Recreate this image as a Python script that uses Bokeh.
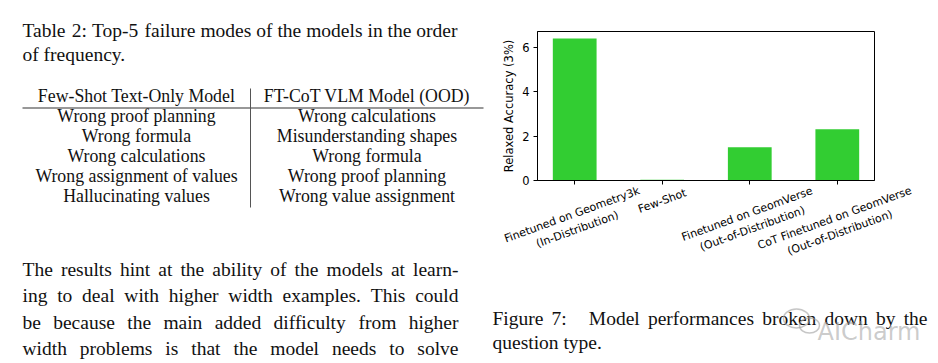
import math
from bokeh.plotting import figure
from bokeh.models import Range1d, FixedTicker, LinearAxis, ColumnDataSource
from bokeh.core.properties import value
from bokeh.embed import file_html
from bokeh.resources import INLINE

# ---------------- data ----------------
bar_labels = ["Finetuned on Geometry3k\n(In-Distribution)",
              "Few-Shot",
              "Finetuned on GeomVerse\n(Out-of-Distribution)",
              "CoT Finetuned on GeomVerse\n(Out-of-Distribution)"]
relaxed_accuracy = [6.38, 0.03, 1.49, 2.30]
y_ticks = [0, 2, 4, 6]
y_axis_label = "Relaxed Accuracy (3%)"

table_caption = ["Table 2: Top-5 failure modes of the models in the order",
                 "of frequency."]
table_header = ["Few-Shot Text-Only Model", "FT-CoT VLM Model (OOD)"]
text_only_failures = ["Wrong proof planning", "Wrong formula", "Wrong calculations",
                      "Wrong assignment of values", "Hallucinating values"]
vlm_failures = ["Wrong calculations", "Misunderstanding shapes", "Wrong formula",
                "Wrong proof planning", "Wrong value assignment"]
paragraph = ["The results hint at the ability of the models at learn-",
             "ing to deal with higher width examples. This could",
             "be because the main added difficulty from higher",
             "width problems is that the model needs to solve"]
figure_caption = ["Figure 7:  Model performances broken down by the",
                  "question type."]
watermark = "AICharm"

# ---------------- font metrics (approximate, per 1000 em) ----------------
TIMES = {' ': 250, '(': 333, ')': 333, '-': 333, '.': 250, ':': 278, ',': 250,
         'A': 722, 'B': 667, 'C': 667, 'D': 722, 'E': 611, 'F': 556, 'G': 722, 'H': 722,
         'I': 333, 'J': 389, 'K': 722, 'L': 611, 'M': 889, 'N': 722, 'O': 722, 'P': 556,
         'Q': 722, 'R': 667, 'S': 556, 'T': 611, 'U': 722, 'V': 722, 'W': 944, 'X': 722,
         'Y': 722, 'Z': 611,
         'a': 444, 'b': 500, 'c': 444, 'd': 500, 'e': 444, 'f': 333, 'g': 500, 'h': 500,
         'i': 278, 'j': 278, 'k': 500, 'l': 278, 'm': 778, 'n': 500, 'o': 500, 'p': 500,
         'q': 500, 'r': 333, 's': 389, 't': 278, 'u': 500, 'v': 500, 'w': 722, 'x': 500,
         'y': 500, 'z': 444}
DEJAVU = {' ': 318, '(': 390, ')': 390, '-': 361, '3': 636, '%': 950,
          'A': 684, 'C': 698, 'D': 770, 'F': 575, 'G': 775, 'I': 295, 'O': 787,
          'R': 695, 'S': 635, 'T': 611, 'V': 684,
          'a': 613, 'b': 635, 'c': 550, 'd': 635, 'e': 615, 'f': 352, 'h': 634,
          'i': 278, 'k': 579, 'l': 278, 'm': 974, 'n': 634, 'o': 612, 'r': 411,
          's': 521, 't': 392, 'u': 634, 'w': 818, 'x': 592, 'y': 592}


def width_of(s, size, table):
    return sum(table.get(c, 500) for c in s) / 1000.0 * size


def justify(line, x0, x1, size):
    """Spread the words of a line between x0 and x1 (LaTeX-like justification)."""
    tokens = line.split(" ")
    words, weights, pending = [], [], 0
    for t in tokens:
        if t == "":
            pending += 1
            continue
        if words:
            weights.append(1.0 + 1.7 * pending)
        words.append(t)
        pending = 0
    natural = sum(width_of(w, size, TIMES) for w in words)
    gap = (x1 - x0 - natural) / max(sum(weights), 1e-9)
    xs, x = [], x0
    for i, w in enumerate(words):
        xs.append(x)
        x += width_of(w, size, TIMES)
        if i < len(weights):
            x += gap * weights[i]
    return words, xs


SERIF = value("Liberation Serif")
SANS = value("DejaVu Sans")
INK = "#111111"
BODY = 19.5
SMALL = 17.8

W, H = 938, 363
p = figure(width=W, height=H, x_range=Range1d(0, W), y_range=Range1d(H, 0),
           output_backend="svg", toolbar_location=None, min_border=0,
           x_axis_type=None, y_axis_type=None)
p.outline_line_color = None
p.background_fill_color = "white"
p.border_fill_color = "white"
p.grid.visible = False


def add_lines(lines, x0, x1, y0, dy, size, justify_last=False):
    xs_all, ys_all, tx_all = [], [], []
    for i, ln in enumerate(lines):
        y = y0 + i * dy
        if i == len(lines) - 1 and not justify_last:
            xs_all.append(x0); ys_all.append(y); tx_all.append(ln)
            continue
        words, xs = justify(ln, x0, x1, size)
        xs_all += xs
        ys_all += [y] * len(words)
        tx_all += words
    p.text(x="x", y="y", text="t", source=ColumnDataSource(dict(x=xs_all, y=ys_all, t=tx_all)),
           text_font=SERIF, text_font_size=f"{size}px", text_align="left",
           text_baseline="alphabetic", text_color=INK)


# ---------------- left column: table ----------------
add_lines(table_caption, 22, 457, 30, 24, BODY)

COL_L, COL_SEP, COL_R_END = 22, 250, 483
col_centers = [(COL_L + COL_SEP) / 2, (COL_SEP + COL_R_END) / 2]
head_y = 95.5
row_y0, row_dy = 115.8, 19.95
tx, ty, tt = [], [], []
for c, h in enumerate(table_header):
    tx.append(col_centers[c]); ty.append(head_y); tt.append(h)
for c, col in enumerate([text_only_failures, vlm_failures]):
    for r, item in enumerate(col):
        tx.append(col_centers[c]); ty.append(row_y0 + r * row_dy); tt.append(item)
p.text(x="x", y="y", text="t", source=ColumnDataSource(dict(x=tx, y=ty, t=tt)),
       text_font=SERIF, text_font_size=f"{SMALL}px", text_align="center",
       text_baseline="alphabetic", text_color=INK)
p.line([COL_L, COL_R_END], [107.5, 107.5], line_color="#333333", line_width=1.1)
p.line([COL_SEP, COL_SEP], [88, 207], line_color="#555555", line_width=1.0)

# ---------------- left column: paragraph ----------------
add_lines(paragraph, 22, 458, 268.5, 26.6, BODY, justify_last=True)

# ---------------- bar chart (own ranges mapped onto its panel) ----------------
CX0, CX1, CY_TOP, CY_BOT = 537, 874, 31, 180
n = len(relaxed_accuracy)
xs = list(range(n))
bar_w = 0.5
pad = 0.05 * ((n - 1 + bar_w / 2) - (-bar_w / 2))
x_lo, x_hi = -bar_w / 2 - pad, n - 1 + bar_w / 2 + pad
ymax = max(relaxed_accuracy) * 1.05
kx = (x_hi - x_lo) / (CX1 - CX0)
ky = ymax / (CY_BOT - CY_TOP)
p.extra_x_ranges = {"bx": Range1d(x_lo - CX0 * kx, x_hi + (W - CX1) * kx)}
p.extra_y_ranges = {"by": Range1d(-(H - CY_BOT) * ky, ymax + CY_TOP * ky)}

p.vbar(x=xs, top=relaxed_accuracy, bottom=0, width=bar_w, fill_color="#32cd32",
       line_color=None, x_range_name="bx", y_range_name="by")
p.quad(left=[x_lo], right=[x_hi], bottom=[0], top=[ymax], fill_color=None,
       line_color="black", line_width=1, x_range_name="bx", y_range_name="by")

TICK_FONT = 11.5
XLAB_FONT = 11
xa = LinearAxis(x_range_name="bx", y_range_name="by", fixed_location=0,
                bounds=(x_lo, x_hi), ticker=FixedTicker(ticks=xs),
                major_label_overrides={i: "" for i in xs})
ya = LinearAxis(x_range_name="bx", y_range_name="by", fixed_location=x_lo,
                bounds=(0, ymax), ticker=FixedTicker(ticks=y_ticks),
                axis_label=y_axis_label)
for ax in (xa, ya):
    ax.axis_line_color = "black"
    ax.axis_line_width = 1
    ax.major_tick_line_color = "black"
    ax.major_tick_out = 4
    ax.major_tick_in = 0
    ax.minor_tick_line_color = None
    ax.major_label_text_font = "DejaVu Sans"
    ax.major_label_text_font_size = f"{TICK_FONT}px"
    ax.major_label_text_color = "black"
ya.major_label_standoff = 4
ya.axis_label_text_font = "DejaVu Sans"
ya.axis_label_text_font_size = f"{TICK_FONT}px"
ya.axis_label_text_font_style = "normal"
ya.axis_label_text_color = "black"
ya.axis_label_standoff = 3
p.add_layout(xa, "below")
p.add_layout(ya, "left")

# rotated, centred category labels (matplotlib style)
ROT = math.radians(20)
drops = []
for lab in bar_labels:
    lines = lab.split("\n")
    w = 0.93 * max(width_of(s, XLAB_FONT, DEJAVU) for s in lines)
    h = XLAB_FONT * (1.2 * (len(lines) - 1) + 1.16)
    drops.append(6.5 + (w * math.sin(ROT) + h * math.cos(ROT)) / 2)
p.text(x="x", y="y", text="t", y_offset="dy",
       source=ColumnDataSource(dict(x=xs, y=[0] * n, t=bar_labels, dy=drops)),
       x_range_name="bx", y_range_name="by", angle=ROT, text_align="center",
       text_baseline="middle", text_font=SANS, text_font_size=f"{XLAB_FONT}px",
       text_color="black")

# ---------------- caption under the chart ----------------
add_lines(figure_caption, 492, 927, 318, 24, BODY)

# faint watermark over the caption
p.ellipse(x=[796, 809], y=[318, 325], width=[26, 20], height=[19, 15],
          fill_color=None, line_color="#a0a0a0", line_alpha=0.6, line_width=1.5)
p.text(x=[817], y=[331], text=[watermark], text_font=SANS, text_font_size="24px",
       text_color="#a0a0a0", text_alpha=0.55, text_align="left",
       text_baseline="alphabetic")

open("out.html", "w").write(file_html(p, INLINE))
